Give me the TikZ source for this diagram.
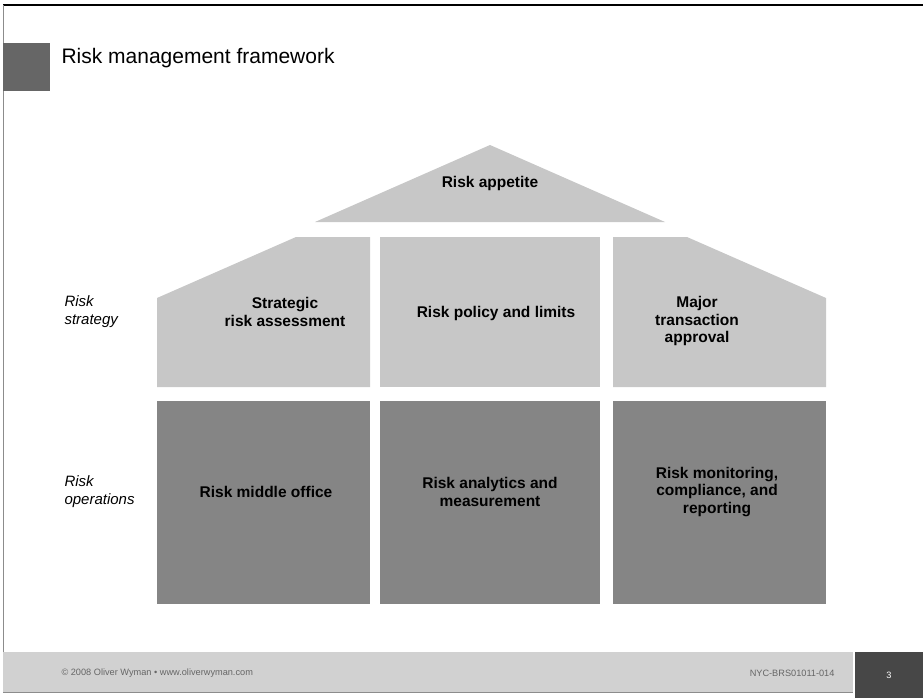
\documentclass[tikz,border=0pt]{standalone}
\usepackage{fontspec}
\setmainfont{Liberation Sans}

\begin{document}
\begin{tikzpicture}
[x=1pt, y=-1pt,
box/.style ={font=\fontsize{15.5}{17.5}\selectfont\bfseries, align=center},
side/.style ={font=\fontsize{15}{18}\selectfont\itshape, align=left, anchor=west},
foot/.style ={font=\fontsize{9.2}{10}\selectfont, text=black!60},
stratfill/.style ={fill=black!22},
opsfill/.style ={fill=black!48}]
\useasboundingbox (0,0) rectangle (923,698);
% frame and title
\draw[line width=2pt] (3,5) -- (923,5);
\draw[black!45, line width=1pt] (3,5) -- (3,692);
\fill[black!60] (3,43) rectangle (50,91);
\draw (58,58) node[anchor=west, font=\fontsize{21}{24}\selectfont] (title) {Risk management framework};
% house
\fill[stratfill] (315,222) -- (490,145) -- (665,222) -- cycle;
\fill[stratfill] (157,387) -- (157,298) -- (296,237) -- (370,237) -- (370,387) -- cycle;
\fill[stratfill] (380,237) rectangle (600,387);
\fill[stratfill] (613,387) -- (613,237) -- (687,237) -- (826,298) -- (826,387) -- cycle;
\fill[opsfill] (157,401) rectangle (370,604);
\fill[opsfill] (380,401) rectangle (600,604);
\fill[opsfill] (613,401) rectangle (826,604);
\draw (490,183) node[box] (appetite) {Risk appetite};
\draw (285,312) node[box] (strategic) {Strategic\\risk assessment};
\draw (496,313) node[box] (policy) {Risk policy and limits};
\draw (697,321) node[box] (major) {Major\\transaction\\approval};
\draw (266,492) node[box] (middle) {Risk middle office};
\draw (490,492) node[box] (analytics) {Risk analytics and\\measurement};
\draw (717,492) node[box] (monitoring) {Risk monitoring,\\compliance, and\\reporting};
\draw (61,312) node[side] (strategy) {Risk\\strategy};
\draw (61,492) node[side] (operations) {Risk\\operations};
% footer
\fill[black!18] (3,652) rectangle (853,692);
\draw[black!45] (3,692) -- (853,692);
\fill[black!72] (855,652) rectangle (923,698);
\draw (58,673) node[foot, anchor=west] (copyright) {© 2008 Oliver Wyman • www.oliverwyman.com};
\draw (838,673) node[foot, anchor=east] (code) {NYC-BRS01011-014};
\draw (889,675) node[foot, text=white] (page) {3};
\end{tikzpicture}
\end{document}
